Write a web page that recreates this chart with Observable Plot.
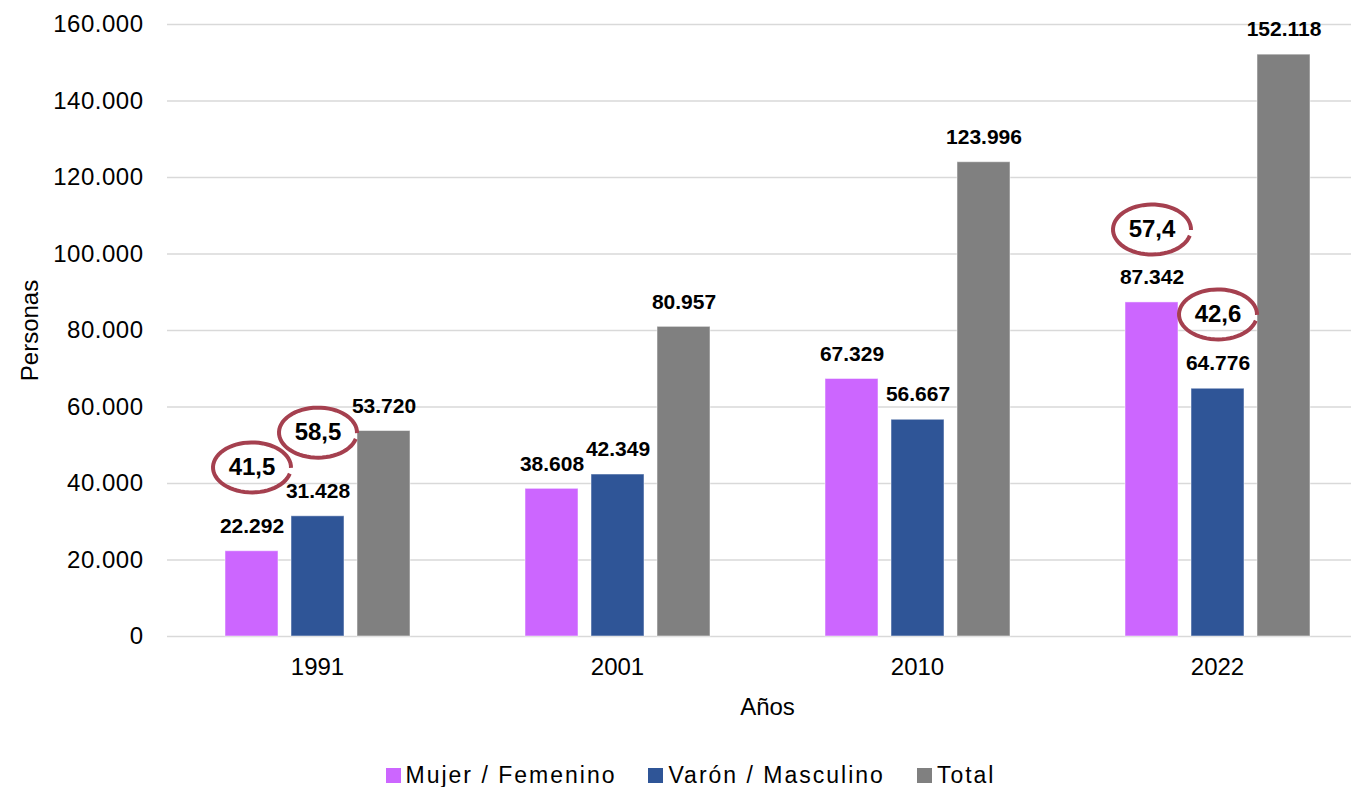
<!DOCTYPE html>
<html>
<head>
<meta charset="utf-8">
<script src="https://cdn.jsdelivr.net/npm/d3@7"></script>
<script src="https://cdn.jsdelivr.net/npm/@observablehq/plot@0.6"></script>
<style>
  body { margin: 0; background: #fff; font-family: "Liberation Sans", Arial, sans-serif; }
  #legend { display: flex; justify-content: center; align-items: center; margin-top: 33px; padding-left: 30px; font-size: 23px; letter-spacing: 2px; color: #000; height: 24px; }
  #legend .item { display: flex; align-items: center; margin-right: 32px; }
  #legend .item:last-child { margin-right: 0; }
  #legend .sw { width: 15px; height: 15px; margin-right: 5px; }
  .tick-y text { letter-spacing: 0.5px; }
</style>
</head>
<body>
<div id="chart"></div>
<div id="legend"></div>
<script>
const years = ["1991", "2001", "2010", "2022"];
const seriesNames = ["Mujer / Femenino", "Varón / Masculino", "Total"];
const colors = ["#CC66FF", "#2F5597", "#808080"];
const mujer = [22292, 38608, 67329, 87342];
const varon = [31428, 42349, 56667, 64776];
const total = [53720, 80957, 123996, 152118];
const yTicks = [0, 20000, 40000, 60000, 80000, 100000, 120000, 140000, 160000];

// porcentajes destacados (año, serie, altura del óvalo, texto)
const annYears = ["1991", "1991", "2022", "2022"];
const annSeries = ["Mujer / Femenino", "Varón / Masculino", "Mujer / Femenino", "Varón / Masculino"];
const annPos = [44200, 53300, 106400, 84200];
const annText = ["41,5", "58,5", "57,4", "42,6"];

const values = [mujer, varon, total];
const data = [];
years.forEach((y, i) => seriesNames.forEach((s, j) => data.push({year: y, series: s, value: values[j][i]})));
const ann = annYears.map((y, i) => ({year: y, series: annSeries[i], pos: annPos[i], text: annText[i]}));

const es = d3.formatLocale({decimal: ",", thousands: ".", grouping: [3], currency: ["", "€"]});
const fmt = es.format(",");

const ellipse = {
  draw(ctx, size) {
    const r = Math.sqrt(size / Math.PI);
    const rx = r * 1.56, ry = r;
    const a0 = 0.25, a1 = 2 * Math.PI + 0.02, n = 60;
    for (let k = 0; k <= n; k++) {
      const a = a0 + (a1 - a0) * k / n;
      const px = rx * Math.cos(a), py = ry * Math.sin(a);
      if (k === 0) ctx.moveTo(px, py); else ctx.lineTo(px, py);
    }
  }
};

const chart = Plot.plot({
  width: 1351,
  height: 730,
  marginLeft: 167,
  marginRight: -16,
  marginTop: 24,
  marginBottom: 94,
  style: {fontFamily: "'Liberation Sans', Arial, sans-serif", fontSize: "20px", color: "#000", background: "#fff", overflow: "visible"},
  fx: {domain: years, paddingInner: 0, paddingOuter: 0, label: null},
  x: {domain: seriesNames, paddingInner: 0.2, paddingOuter: 0.86, axis: null},
  y: {domain: [0, 160000], label: null},
  color: {domain: seriesNames, range: colors},
  marks: [
    Plot.gridY(yTicks, {stroke: "#d9d9d9", strokeOpacity: 1, strokeWidth: 1.5}),
    Plot.axisY(yTicks, {tickSize: 0, tickPadding: 24, fontSize: 24, className: "tick-y", tickFormat: fmt, label: "Personas", labelAnchor: "center", labelArrow: "none", labelOffset: 147}),
    Plot.axisFx({anchor: "bottom", tickSize: 0, tickPadding: 21, fontSize: 24, label: "Años", labelAnchor: "center", labelArrow: "none", labelOffset: 78}),
    Plot.barY(data, {fx: "year", x: "series", y: "value", fill: "series", stroke: "#ffffff", strokeOpacity: 0.5, strokeWidth: 1}),
    Plot.text(data, {fx: "year", x: "series", y: "value", text: d => fmt(d.value), dy: -25, fontWeight: "bold", fontSize: 21, fill: "#000"}),
    Plot.dot(ann, {fx: "year", x: "series", y: "pos", r: 25, symbol: ellipse, stroke: "#A5404F", strokeWidth: 4, fill: "none"}),
    Plot.text(ann, {fx: "year", x: "series", y: "pos", text: "text", fontWeight: "bold", fontSize: 24, fill: "#000"})
  ]
});
document.getElementById("chart").appendChild(chart);

const legend = document.getElementById("legend");
seriesNames.forEach((s, i) => {
  const item = document.createElement("div");
  item.className = "item";
  const sw = document.createElement("div");
  sw.className = "sw";
  sw.style.background = colors[i];
  const t = document.createElement("span");
  t.textContent = s;
  item.appendChild(sw);
  item.appendChild(t);
  legend.appendChild(item);
});
</script>
</body>
</html>
